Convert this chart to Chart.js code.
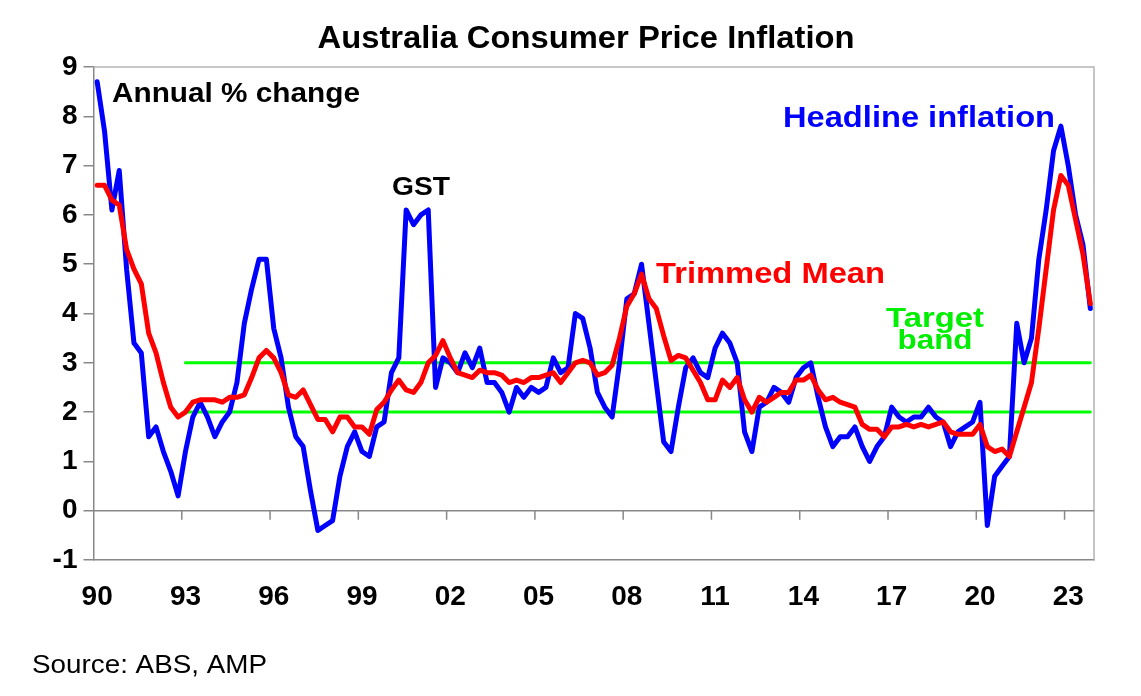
<!DOCTYPE html>
<html>
<head>
<meta charset="utf-8">
<title>Australia Consumer Price Inflation</title>
<script src="https://cdn.jsdelivr.net/npm/chart.js@4.4.1/dist/chart.umd.min.js"></script>
<style>
    html, body { margin: 0; padding: 0; background: #ffffff; }
    #wrap { width: 1141px; height: 696px; }
</style>
</head>
<body>
<div id="wrap"><canvas id="cpiChart" width="1141" height="696"></canvas></div>
<script>
// =============================================
// Australia CPI - annual % change, quarterly
// =============================================

const years = [];
for (let y = 1990; y <= 2023; y++) years.push(y);
const quarterMonths = ['Mar', 'Jun', 'Sep', 'Dec'];

// one label per quarter, Mar-1990 .. Dec-2023
const quarters = [];
years.forEach(y => quarterMonths.forEach(m => quarters.push(m + '-' + y)));

// Headline CPI, annual % change (4 values per year)
const headline = [
    8.7, 7.7, 6.1, 6.9,   // 1990
    4.9, 3.4, 3.2, 1.5,   // 1991
    1.7, 1.2, 0.8, 0.3,   // 1992
    1.2, 1.9, 2.2, 1.9,   // 1993
    1.5, 1.8, 2.0, 2.6,   // 1994
    3.8, 4.5, 5.1, 5.1,   // 1995
    3.7, 3.1, 2.1, 1.5,   // 1996
    1.3, 0.4, -0.4, -0.3, // 1997
    -0.2, 0.7, 1.3, 1.6,  // 1998
    1.2, 1.1, 1.7, 1.8,   // 1999
    2.8, 3.1, 6.1, 5.8,   // 2000
    6.0, 6.1, 2.5, 3.1,   // 2001
    3.0, 2.8, 3.2, 2.9,   // 2002
    3.3, 2.6, 2.6, 2.4,   // 2003
    2.0, 2.5, 2.3, 2.5,   // 2004
    2.4, 2.5, 3.1, 2.8,   // 2005
    2.9, 4.0, 3.9, 3.3,   // 2006
    2.4, 2.1, 1.9, 3.0,   // 2007
    4.3, 4.4, 5.0, 3.8,   // 2008
    2.6, 1.4, 1.2, 2.1,   // 2009
    2.9, 3.1, 2.8, 2.7,   // 2010
    3.3, 3.6, 3.4, 3.0,   // 2011
    1.6, 1.2, 2.1, 2.2,   // 2012
    2.5, 2.4, 2.2, 2.7,   // 2013
    2.9, 3.0, 2.3, 1.7,   // 2014
    1.3, 1.5, 1.5, 1.7,   // 2015
    1.3, 1.0, 1.3, 1.5,   // 2016
    2.1, 1.9, 1.8, 1.9,   // 2017
    1.9, 2.1, 1.9, 1.8,   // 2018
    1.3, 1.6, 1.7, 1.8,   // 2019
    2.2, -0.3, 0.7, 0.9,  // 2020
    1.1, 3.8, 3.0, 3.5,   // 2021
    5.1, 6.1, 7.3, 7.8,   // 2022
    7.0, 6.0, 5.4, 4.1    // 2023
];

// Trimmed mean, annual % change
const trimmedMean = [
    6.6, 6.6, 6.3, 6.2,    // 1990
    5.3, 4.9, 4.6, 3.6,    // 1991
    3.2, 2.6, 2.1, 1.9,    // 1992
    2.0, 2.2, 2.25, 2.25,  // 1993
    2.25, 2.2, 2.3, 2.3,   // 1994
    2.35, 2.7, 3.1, 3.25,  // 1995
    3.1, 2.8, 2.35, 2.3,   // 1996
    2.45, 2.15, 1.85, 1.85,// 1997
    1.6, 1.9, 1.9, 1.7,    // 1998
    1.7, 1.55, 2.05, 2.2,  // 1999
    2.45, 2.65, 2.45, 2.4, // 2000
    2.6, 3.0, 3.15, 3.45,  // 2001
    3.1, 2.8, 2.75, 2.7,   // 2002
    2.85, 2.8, 2.8, 2.75,  // 2003
    2.6, 2.65, 2.6, 2.7,   // 2004
    2.7, 2.75, 2.8, 2.6,   // 2005
    2.8, 3.0, 3.05, 3.0,   // 2006
    2.75, 2.8, 2.95, 3.5,  // 2007
    4.15, 4.4, 4.8, 4.3,   // 2008
    4.1, 3.55, 3.05, 3.15, // 2009
    3.1, 2.85, 2.6, 2.25,  // 2010
    2.25, 2.65, 2.5, 2.7,  // 2011
    2.25, 2.0, 2.3, 2.2,   // 2012
    2.3, 2.4, 2.4, 2.65,   // 2013
    2.65, 2.75, 2.45, 2.25,// 2014
    2.3, 2.2, 2.15, 2.1,   // 2015
    1.75, 1.65, 1.65, 1.5, // 2016
    1.7, 1.7, 1.75, 1.7,   // 2017
    1.75, 1.7, 1.75, 1.8,  // 2018
    1.6, 1.55, 1.55, 1.55, // 2019
    1.75, 1.3, 1.2, 1.25,  // 2020
    1.1, 1.6, 2.1, 2.6,    // 2021
    3.7, 4.9, 6.1, 6.8,    // 2022
    6.6, 5.9, 5.2, 4.2     // 2023
];

// RBA target band 2-3%, shown from Mar-1993
const bandLow = 2;
const bandHigh = 3;
const bandStart = 'Mar-1993';

const yTicks = [-1, 0, 1, 2, 3, 4, 5, 6, 7, 8, 9];
const tickEvery = 12; // label every third year

const FONT = "'Liberation Sans', Arial, sans-serif";

const bandIndex = quarters.indexOf(bandStart);
const bandLowData = quarters.map((q, i) => i < bandIndex ? null : bandLow);
const bandHighData = quarters.map((q, i) => i < bandIndex ? null : bandHigh);

// draw text squeezed/stretched to a given width (matches the wide Excel lettering)
function drawText(ctx, text, x, y, opts) {
    ctx.save();
    ctx.font = (opts.bold ? 'bold ' : '') + opts.size + 'px ' + FONT;
    ctx.fillStyle = opts.color || '#000';
    ctx.textBaseline = 'alphabetic';
    ctx.textAlign = 'left';
    const w = ctx.measureText(text).width;
    const sx = opts.width ? opts.width / w : 1;
    let left = x;
    if (opts.align === 'center') left = x - (w * sx) / 2;
    ctx.translate(left, y);
    ctx.scale(sx, 1);
    ctx.fillText(text, 0, 0);
    ctx.restore();
}

const decorations = {
    id: 'decorations',
    beforeDatasetsDraw(chart) {
        const { ctx, chartArea, scales } = chart;
        const xs = scales.x;
        const y0 = scales.y.getPixelForValue(0);
        const step = xs.getPixelForValue(1) - xs.getPixelForValue(0);

        ctx.save();
        // light frame top / right
        ctx.strokeStyle = '#b4b4b4';
        ctx.lineWidth = 1.5;
        ctx.beginPath();
        ctx.moveTo(chartArea.left, chartArea.top);
        ctx.lineTo(chartArea.right, chartArea.top);
        ctx.lineTo(chartArea.right, chartArea.bottom);
        ctx.stroke();

        // zero line with year tick marks hanging below it
        ctx.strokeStyle = '#888888';
        ctx.lineWidth = 1.5;
        ctx.beginPath();
        ctx.moveTo(chartArea.left, y0);
        ctx.lineTo(chartArea.right, y0);
        for (let i = tickEvery; i < quarters.length; i += tickEvery) {
            const x = xs.getPixelForValue(i) - step / 2;
            ctx.moveTo(x, y0);
            ctx.lineTo(x, y0 + 9);
        }
        ctx.stroke();
        ctx.restore();
    },
    afterDraw(chart) {
        const ctx = chart.ctx;
        drawText(ctx, 'Australia Consumer Price Inflation', 586, 48, { size: 31, bold: true, width: 537, align: 'center' });
        drawText(ctx, 'Annual % change', 112, 102, { size: 28, bold: true, width: 248 });
        drawText(ctx, 'GST', 392, 195, { size: 26, bold: true, width: 58 });
        drawText(ctx, 'Trimmed Mean', 656, 283, { size: 29, bold: true, width: 229, color: '#ff0000' });
        drawText(ctx, 'Headline inflation', 783, 127, { size: 30, bold: true, width: 272, color: '#0000ff' });
        drawText(ctx, 'Target', 935, 327, { size: 27, bold: true, width: 98, color: '#00ee00', align: 'center' });
        drawText(ctx, 'band', 935, 349, { size: 27, bold: true, width: 75, color: '#00ee00', align: 'center' });
        drawText(ctx, 'Source: ABS, AMP', 32, 673, { size: 25, width: 235 });
    }
};

const lineStyle = {
    pointRadius: 0,
    pointHoverRadius: 0,
    tension: 0,
    fill: false,
    borderJoinStyle: 'round',
    borderCapStyle: 'round'
};

new Chart(document.getElementById('cpiChart'), {
    type: 'line',
    data: {
        labels: quarters,
        datasets: [
            { label: 'Trimmed Mean', data: trimmedMean, borderColor: '#ff0000', borderWidth: 5, ...lineStyle },
            { label: 'Headline inflation', data: headline, borderColor: '#0000ff', borderWidth: 5, ...lineStyle },
            { label: 'Target high', data: bandHighData, borderColor: '#00ff00', borderWidth: 3, ...lineStyle },
            { label: 'Target low', data: bandLowData, borderColor: '#00ff00', borderWidth: 3, ...lineStyle }
        ]
    },
    options: {
        responsive: false,
        devicePixelRatio: 1,
        animation: false,
        layout: { padding: { top: 67, right: 47, bottom: 0, left: 0 } },
        plugins: {
            legend: { display: false },
            title: { display: false },
            tooltip: { enabled: false }
        },
        scales: {
            x: {
                type: 'category',
                offset: true,
                grid: { display: false },
                border: { display: true, color: '#888888', width: 1.5 },
                afterFit: (scale) => { scale.height = 136; },
                ticks: {
                    autoSkip: false,
                    maxRotation: 0,
                    padding: 12,
                    color: '#000',
                    font: { family: FONT, size: 28, weight: 'bold' },
                    callback: (val, idx) => idx % tickEvery === 0 ? String(years[idx / 4]).slice(2) : ''
                }
            },
            y: {
                min: yTicks[0],
                max: yTicks[yTicks.length - 1],
                afterBuildTicks: (scale) => { scale.ticks = yTicks.map(v => ({ value: v })); },
                afterFit: (scale) => { scale.width = 93.5; },
                grid: { drawOnChartArea: false, drawTicks: true, tickLength: 10, color: '#888888', lineWidth: 1.5 },
                border: { display: true, color: '#888888', width: 1.5 },
                ticks: {
                    padding: 6,
                    color: '#000',
                    font: { family: FONT, size: 28, weight: 'bold' }
                }
            }
        }
    },
    plugins: [decorations]
});
</script>
</body>
</html>
